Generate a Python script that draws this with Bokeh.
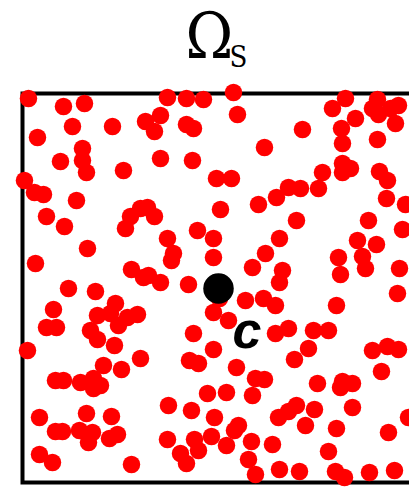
from bokeh.plotting import figure
from bokeh.models import Range1d, ColumnDataSource
from bokeh.core.properties import value
from bokeh.embed import file_html
from bokeh.resources import INLINE

# Domain box (Omega_S) in its own units
box_lo = 0
box_hi = 389

# Sample points (red)
xs = [6, 41, 62, 50, 90, 123, 138, 132, 145, 164, 181, 211, 164, 171, 215, 323, 310, 355, 350, 356,
      368, 376, 333, 373, 280, 319, 15, 60, 242, 320, 355, 38, 60, 138, 170, 320, 328, 320, 300, 357,
      64, 101, 2, 194, 209, 365, 266, 278, 296, 12, 21, 54, 254, 364, 383, 125, 132, 198, 236, 24,
      42, 108, 118, 103, 274, 346, 380, 175, 145, 191, 257, 335, 354, 65, 151, 149, 191, 243, 316, 340,
      343, 13, 109, 121, 230, 260, 257, 318, 377, 126, 138, 166, 46, 73, 375, 223, 241, 253, 314, 93,
      31, 75, 88, 105, 115, 191, 197, 206, 96, 24, 34, 68, 75, 92, 5, 171, 253, 266, 291, 306,
      286, 191, 350, 365, 376, 118, 81, 99, 33, 41, 58, 71, 78, 71, 167, 176, 214, 233, 242, 272,
      359, 295, 320, 330, 318, 230, 185, 204, 146, 169, 192, 256, 17, 64, 89, 274, 266, 292, 330, 386,
      216, 212, 283, 314, 366, 33, 40, 57, 70, 66, 87, 95, 145, 172, 189, 176, 158, 204, 229, 250,
      306, 17, 30, 109, 164, 226, 233, 257, 277, 313, 322, 347, 372]
ys = [384, 376, 379, 356, 356, 361, 367, 351, 385, 384, 383, 390, 358, 354, 368, 384, 374, 383, 374, 368,
      374, 377, 364, 359, 353, 354, 345, 334, 335, 339, 343, 321, 322, 324, 322, 319, 314, 310, 310, 311,
      310, 312, 302, 304, 304, 302, 295, 294, 294, 290, 288, 282, 285, 284, 278, 275, 266, 273, 278, 266,
      256, 266, 274, 254, 262, 262, 253, 252, 244, 244, 244, 242, 238, 234, 229, 222, 225, 229, 225, 226,
      214, 219, 213, 205, 215, 212, 200, 208, 214, 207, 200, 198, 194, 191, 189, 182, 184, 177, 177, 179,
      173, 167, 169, 165, 168, 170, 184, 162, 157, 155, 155, 152, 143, 137, 132, 149, 149, 154, 152, 152,
      134, 133, 132, 136, 133, 124, 117, 113, 102, 102, 100, 104, 97, 94, 122, 119, 115, 104, 103, 123,
      111, 99, 101, 99, 95, 87, 89, 90, 77, 72, 65, 65, 65, 69, 66, 77, 71, 73, 75, 65,
      57, 52, 57, 54, 50, 51, 51, 52, 50, 40, 44, 48, 43, 43, 46, 32, 29, 37, 41, 38,
      31, 28, 20, 18, 19, 23, 8, 13, 11, 11, 5, 10, 12]

# Centre point c
center_x = [196]
center_y = [194]

p = figure(width=409, height=489, output_backend="svg", toolbar_location=None,
           x_range=Range1d(-22, 387), y_range=Range1d(-7, 482),
           min_border=0, min_border_left=0, min_border_right=0,
           min_border_top=0, min_border_bottom=0)
p.xaxis.visible = False
p.yaxis.visible = False
p.grid.visible = False
p.outline_line_color = None
p.background_fill_color = "white"
p.border_fill_color = "white"

# Box
p.quad(left=[box_lo], right=[box_hi], bottom=[box_lo], top=[box_hi],
       fill_color=None, line_color="black", line_width=4, line_join="miter")

# Red sample points
src = ColumnDataSource(dict(x=xs, y=ys))
p.scatter("x", "y", source=src, size=17.5, fill_color="#ff0000", line_color=None)

# Centre point
p.scatter(center_x, center_y, size=30.5, fill_color="black", line_color=None)

# Label c
p.text(x=[210], y=[153], text=["c"], text_font=value("Liberation Sans"),
       text_font_style="bold italic", text_font_size="52px", text_color="black",
       text_align="left", text_baseline="alphabetic")

# Title Omega_S
p.text(x=[163], y=[447], text=["Ω"], text_font=value("DejaVu Serif Condensed"),
       text_font_size="64px", text_color="black", text_align="left",
       text_baseline="alphabetic")
p.text(x=[207], y=[426], text=["S"], text_font=value("DejaVu Serif Condensed"),
       text_font_size="29px", text_color="black", text_align="left",
       text_baseline="alphabetic")

open("out.html", "w").write(file_html(p, INLINE))
